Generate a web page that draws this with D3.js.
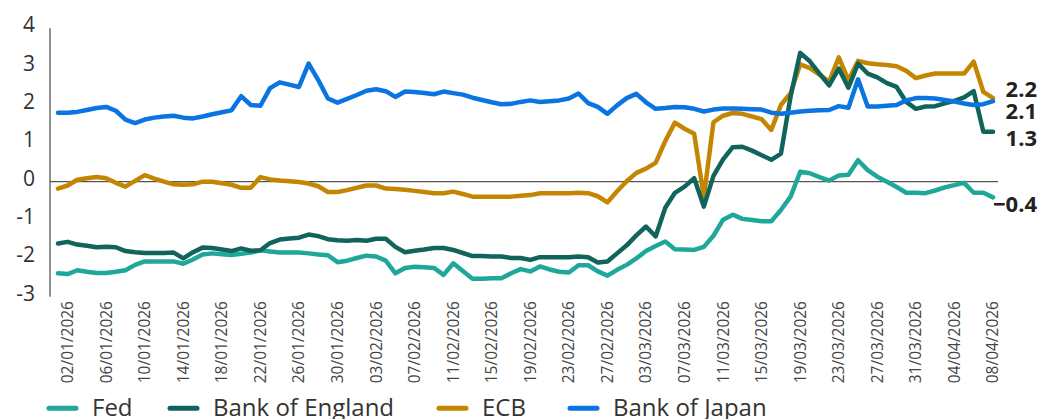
<!DOCTYPE html>
<html>
<head>
<meta charset="utf-8">
<script src="https://cdn.jsdelivr.net/npm/d3@7"></script>
<style>
  html, body { margin: 0; padding: 0; background: #fff; }
  svg { display: block; font-family: "Open Sans", Lato, sans-serif; }
</style>
</head>
<body>
<svg id="chart" width="1038" height="419"></svg>
<script>
// ---------- data ----------
const startDate = "01/01/2026";
const endDate = "08/04/2026";
const seriesNames = ["Fed", "Bank of England", "ECB", "Bank of Japan"];
const seriesColors = ["#1fa79a", "#10645b", "#c48600", "#0a74e2"];
const yTicks = [4, 3, 2, 1, 0, -1, -2, -3];
const xTickLabels = ["02/01/2026","06/01/2026","10/01/2026","14/01/2026","18/01/2026","22/01/2026",
  "26/01/2026","30/01/2026","03/02/2026","07/02/2026","11/02/2026","15/02/2026","19/02/2026",
  "23/02/2026","27/02/2026","03/03/2026","07/03/2026","11/03/2026","15/03/2026","19/03/2026",
  "23/03/2026","27/03/2026","31/03/2026","04/04/2026","08/04/2026"];

const fed = [
  -2.39,-2.41,-2.31,-2.35,-2.38,-2.38,-2.35,-2.31,-2.17,-2.08,
  -2.08,-2.08,-2.08,-2.14,-2.03,-1.90,-1.87,-1.89,-1.91,-1.88,
  -1.85,-1.79,-1.82,-1.85,-1.85,-1.85,-1.87,-1.90,-1.92,-2.10,
  -2.06,-1.99,-1.93,-1.95,-2.06,-2.39,-2.25,-2.22,-2.23,-2.25,
  -2.43,-2.13,-2.33,-2.53,-2.53,-2.52,-2.52,-2.39,-2.28,-2.34,
  -2.21,-2.29,-2.35,-2.37,-2.18,-2.18,-2.34,-2.45,-2.30,-2.17,
  -2.00,-1.81,-1.68,-1.56,-1.76,-1.77,-1.78,-1.70,-1.41,-0.99,
  -0.86,-0.97,-1.00,-1.03,-1.03,-0.74,-0.39,0.26,0.22,0.12,
  0.03,0.16,0.18,0.56,0.30,0.13,0.00,-0.14,-0.29,-0.29,
  -0.30,-0.23,-0.15,-0.09,-0.03,-0.29,-0.29,-0.41];

const boe = [
  -1.61,-1.57,-1.64,-1.67,-1.71,-1.70,-1.71,-1.81,-1.84,-1.86,
  -1.86,-1.86,-1.85,-2.00,-1.84,-1.72,-1.73,-1.77,-1.81,-1.74,
  -1.80,-1.79,-1.60,-1.51,-1.48,-1.46,-1.38,-1.42,-1.50,-1.53,
  -1.54,-1.52,-1.54,-1.49,-1.49,-1.70,-1.84,-1.80,-1.77,-1.73,
  -1.73,-1.78,-1.86,-1.94,-1.94,-1.95,-1.95,-1.99,-1.99,-2.04,
  -1.97,-1.97,-1.97,-1.97,-1.95,-1.97,-2.11,-2.08,-1.87,-1.66,
  -1.40,-1.17,-1.43,-0.68,-0.29,-0.13,0.09,-0.65,0.15,0.58,
  0.90,0.91,0.81,0.69,0.57,0.73,2.22,3.36,3.14,2.82,
  2.51,2.95,2.45,3.08,2.82,2.72,2.57,2.47,2.08,1.90,
  1.96,1.97,2.04,2.11,2.20,2.36,1.30,1.30];

const ecb = [
  -0.18,-0.10,0.05,0.09,0.12,0.09,-0.03,-0.13,0.02,0.17,
  0.08,0.00,-0.07,-0.08,-0.07,0.00,0.00,-0.04,-0.08,-0.16,
  -0.16,0.12,0.06,0.03,0.01,-0.01,-0.05,-0.12,-0.27,-0.27,
  -0.22,-0.16,-0.10,-0.10,-0.18,-0.19,-0.21,-0.24,-0.27,-0.30,
  -0.30,-0.26,-0.32,-0.39,-0.39,-0.39,-0.39,-0.39,-0.37,-0.35,
  -0.30,-0.30,-0.30,-0.30,-0.29,-0.30,-0.38,-0.54,-0.25,0.01,
  0.23,0.34,0.49,1.06,1.54,1.38,1.25,-0.40,1.55,1.72,
  1.79,1.77,1.70,1.63,1.35,2.00,2.31,3.06,2.96,2.79,
  2.61,3.24,2.65,3.15,3.09,3.06,3.04,3.01,2.89,2.70,
  2.77,2.82,2.82,2.82,2.82,3.13,2.34,2.18];

const boj = [
  1.80,1.80,1.82,1.87,1.92,1.95,1.85,1.62,1.53,1.62,
  1.67,1.70,1.72,1.67,1.65,1.70,1.76,1.81,1.86,2.23,
  2.00,1.98,2.44,2.59,2.53,2.47,3.08,2.65,2.17,2.06,
  2.16,2.26,2.37,2.41,2.36,2.21,2.35,2.34,2.31,2.28,
  2.35,2.31,2.27,2.19,2.13,2.07,2.02,2.03,2.08,2.12,
  2.08,2.10,2.12,2.17,2.30,2.05,1.95,1.77,1.99,2.18,
  2.29,2.07,1.90,1.92,1.95,1.94,1.90,1.83,1.88,1.91,
  1.91,1.90,1.89,1.88,1.80,1.77,1.80,1.83,1.85,1.86,
  1.87,1.97,1.93,2.67,1.96,1.96,1.98,2.00,2.12,2.18,
  2.18,2.17,2.13,2.09,2.04,2.00,2.02,2.10];

const seriesValues = [fed, boe, ecb, boj];

// ---------- layout ----------
const W = 1038, H = 419;
const parse = d3.timeParse("%d/%m/%Y");
const dates = d3.timeDay.range(parse(startDate), d3.timeDay.offset(parse(endDate), 1));

const x = d3.scaleTime().domain([parse(startDate), parse(endDate)]).range([58, 993]);
const y = d3.scaleLinear().domain([-3, 4]).range([296.7, 28.3]);

const svg = d3.select("#chart");

// y axis line
svg.append("line")
  .attr("x1", 50).attr("x2", 50)
  .attr("y1", y(4)).attr("y2", y(-3))
  .attr("stroke", "#6b6b6b").attr("stroke-width", 1.5);

// y tick labels
svg.append("g").selectAll("text").data(yTicks).join("text")
  .attr("x", 35).attr("y", d => y(d) - 4)
  .attr("text-anchor", "end").attr("dominant-baseline", "central")
  .attr("font-size", 21).attr("fill", "#333")
  .text(d => d);

// zero line
svg.append("line")
  .attr("x1", 50).attr("x2", 998)
  .attr("y1", y(0)).attr("y2", y(0))
  .attr("stroke", "#555").attr("stroke-width", 1.4);

// x tick labels
svg.append("g").selectAll("text").data(xTickLabels).join("text")
  .attr("transform", d => `translate(${x(parse(d))},301) rotate(-90)`)
  .attr("text-anchor", "end").attr("dy", "0.35em")
  .attr("font-size", 15.5).attr("fill", "#444")
  .text(d => d);

// lines
const drawOrder = [2, 0, 1, 3];
const lineGen = d3.line().x((d, i) => x(dates[i])).y(d => y(d)).curve(d3.curveLinear);
drawOrder.forEach(k => {
  svg.append("path")
    .datum(seriesValues[k])
    .attr("d", lineGen)
    .attr("fill", "none")
    .attr("stroke", seriesColors[k])
    .attr("stroke-width", 4.5)
    .attr("stroke-linejoin", "round")
    .attr("stroke-linecap", "round");
});

// end labels
const endLabelNudge = [6, 5, -10, 9];
const fmt = d3.format(".1f");
seriesValues.forEach((vals, k) => {
  const last = vals[vals.length - 1];
  svg.append("text")
    .attr("x", 1037).attr("y", y(last) + endLabelNudge[k])
    .attr("text-anchor", "end").attr("dominant-baseline", "central")
    .attr("font-size", 22).attr("font-weight", "bold").attr("fill", "#222")
    .text(fmt(last));
});

// legend
const legendX = [47, 168, 437, 568];
const legend = svg.append("g");
seriesNames.forEach((name, k) => {
  legend.append("line")
    .attr("x1", legendX[k] + 2).attr("x2", legendX[k] + 29)
    .attr("y1", 408.3).attr("y2", 408.3)
    .attr("stroke", seriesColors[k]).attr("stroke-width", 5)
    .attr("stroke-linecap", "round");
  legend.append("text")
    .attr("x", legendX[k] + 45).attr("y", 416)
    .attr("font-size", 24).attr("fill", "#333")
    .text(name);
});
</script>
</body>
</html>
